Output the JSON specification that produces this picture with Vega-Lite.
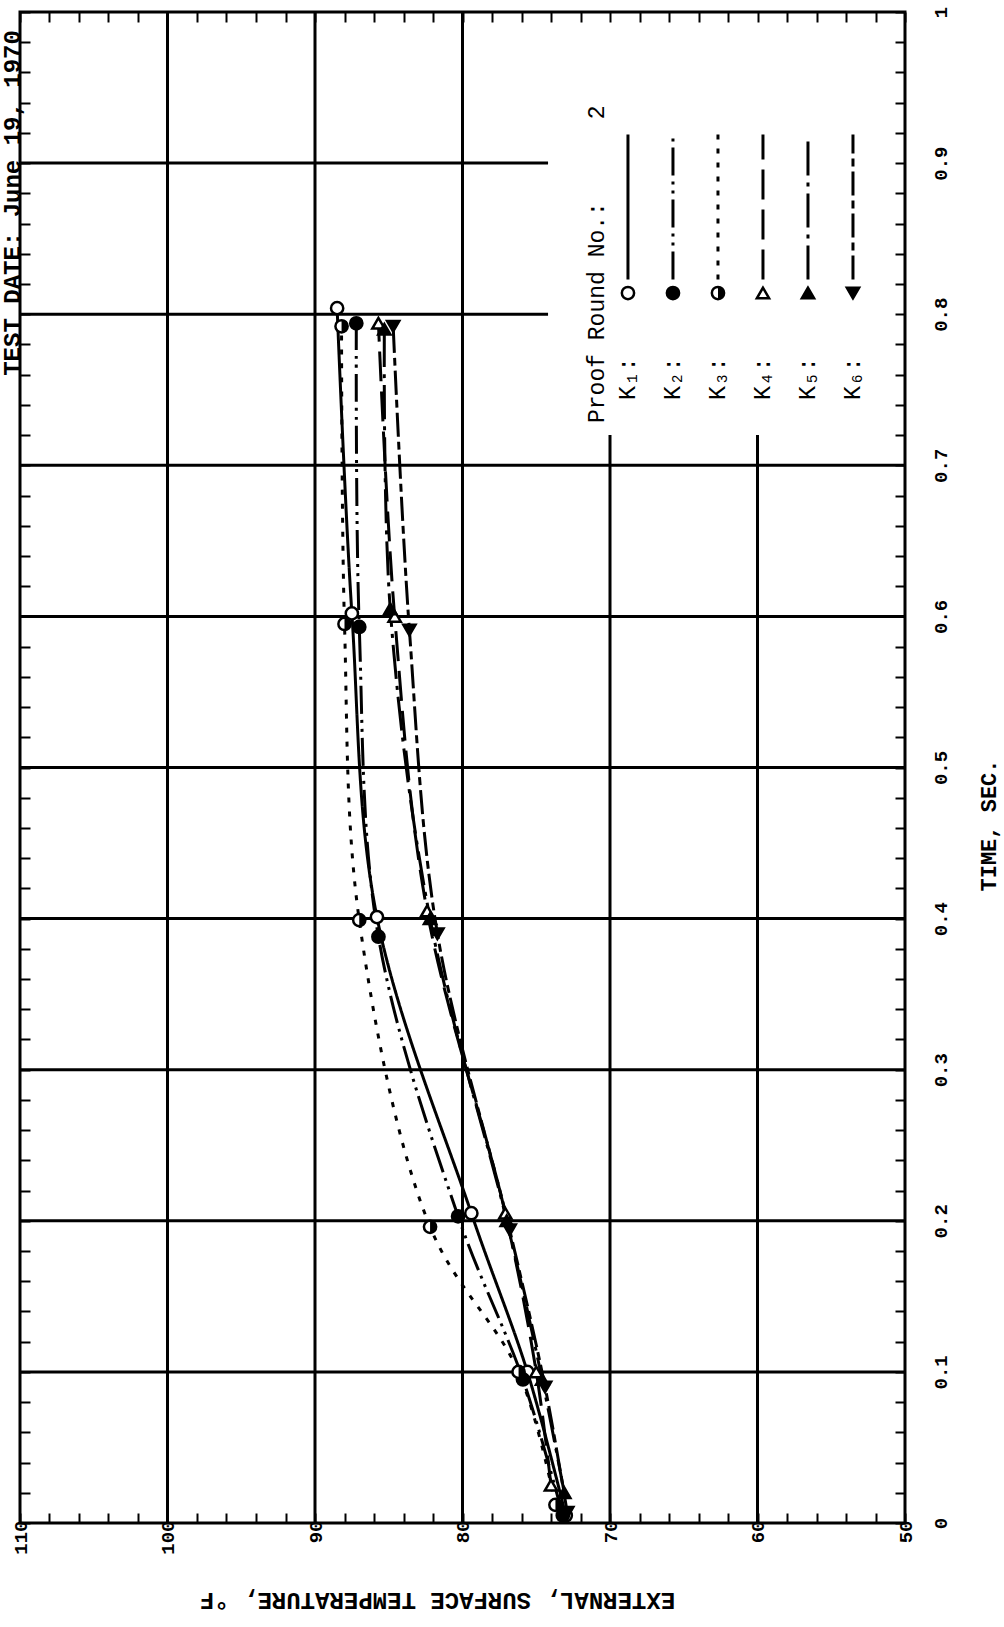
{
  "$schema": "https://vega.github.io/schema/vega-lite/v6.json",
  "width": 885,
  "height": 1511,
  "autosize": "none",
  "padding": {"left": 20, "top": 12, "right": 99, "bottom": 104},
  "background": "white",
  "config": {
    "view": {"stroke": "black", "strokeWidth": 3},
    "axis": {"labelColor": "black", "tickColor": "black", "titleColor": "black", "labelFont": "Liberation Mono", "titleFont": "Liberation Mono"}
  },
  "datasets": {
    "grid": [
      {"temp_from": 100, "temp_to": 100, "time_from": 0, "time_to": 1},
      {"temp_from": 90, "temp_to": 90, "time_from": 0, "time_to": 1},
      {"temp_from": 80, "temp_to": 80, "time_from": 0, "time_to": 1},
      {"temp_from": 70, "temp_to": 70, "time_from": 0, "time_to": 0.72},
      {"temp_from": 60, "temp_to": 60, "time_from": 0, "time_to": 0.72},
      {"temp_from": 110, "temp_to": 50, "time_from": 0.1, "time_to": 0.1},
      {"temp_from": 110, "temp_to": 50, "time_from": 0.2, "time_to": 0.2},
      {"temp_from": 110, "temp_to": 50, "time_from": 0.3, "time_to": 0.3},
      {"temp_from": 110, "temp_to": 50, "time_from": 0.4, "time_to": 0.4},
      {"temp_from": 110, "temp_to": 50, "time_from": 0.5, "time_to": 0.5},
      {"temp_from": 110, "temp_to": 50, "time_from": 0.6, "time_to": 0.6},
      {"temp_from": 110, "temp_to": 50, "time_from": 0.7, "time_to": 0.7},
      {"temp_from": 110, "temp_to": 74.2, "time_from": 0.8, "time_to": 0.8},
      {"temp_from": 110, "temp_to": 74.2, "time_from": 0.9, "time_to": 0.9}
    ],
    "readings": [
      {"series": "K1", "time": 0.005, "temp": 73.0},
      {"series": "K1", "time": 0.1, "temp": 75.6},
      {"series": "K1", "time": 0.205, "temp": 79.4},
      {"series": "K1", "time": 0.401, "temp": 85.8},
      {"series": "K1", "time": 0.602, "temp": 87.5},
      {"series": "K1", "time": 0.804, "temp": 88.5},
      {"series": "K2", "time": 0.005, "temp": 73.2},
      {"series": "K2", "time": 0.095, "temp": 75.9},
      {"series": "K2", "time": 0.203, "temp": 80.3},
      {"series": "K2", "time": 0.388, "temp": 85.7},
      {"series": "K2", "time": 0.593, "temp": 87.0},
      {"series": "K2", "time": 0.794, "temp": 87.2},
      {"series": "K3", "time": 0.012, "temp": 73.7},
      {"series": "K3", "time": 0.1, "temp": 76.2},
      {"series": "K3", "time": 0.196, "temp": 82.2},
      {"series": "K3", "time": 0.399, "temp": 87.0},
      {"series": "K3", "time": 0.595, "temp": 88.0},
      {"series": "K3", "time": 0.792, "temp": 88.2},
      {"series": "K4", "time": 0.025, "temp": 74.0},
      {"series": "K4", "time": 0.1, "temp": 75.0},
      {"series": "K4", "time": 0.205, "temp": 77.1},
      {"series": "K4", "time": 0.405, "temp": 82.4},
      {"series": "K4", "time": 0.6, "temp": 84.6},
      {"series": "K4", "time": 0.794, "temp": 85.7},
      {"series": "K5", "time": 0.02, "temp": 73.1},
      {"series": "K5", "time": 0.095, "temp": 74.6},
      {"series": "K5", "time": 0.2, "temp": 77.0},
      {"series": "K5", "time": 0.4, "temp": 82.2},
      {"series": "K5", "time": 0.605, "temp": 84.9},
      {"series": "K5", "time": 0.79, "temp": 85.3},
      {"series": "K6", "time": 0.007, "temp": 72.9},
      {"series": "K6", "time": 0.09, "temp": 74.4},
      {"series": "K6", "time": 0.194, "temp": 76.8},
      {"series": "K6", "time": 0.39, "temp": 81.7},
      {"series": "K6", "time": 0.591, "temp": 83.6},
      {"series": "K6", "time": 0.792, "temp": 84.7}
    ],
    "keys": [
      {"series": "K1", "number": 1, "label": "K₁:"},
      {"series": "K2", "number": 2, "label": "K₂:"},
      {"series": "K3", "number": 3, "label": "K₃:"},
      {"series": "K4", "number": 4, "label": "K₄:"},
      {"series": "K5", "number": 5, "label": "K₅:"},
      {"series": "K6", "number": 6, "label": "K₆:"}
    ]
  },
  "layer": [
    {
      "resolve": {"axis": {"x": "independent", "y": "independent"}},
      "layer": [
        {
          "data": {"name": "grid"},
          "mark": {"type": "rule", "color": "black", "strokeWidth": 3},
          "encoding": {
            "x": {"field": "temp_from", "type": "quantitative",
              "scale": {"domain": [50, 110], "reverse": true, "nice": false, "zero": false},
              "axis": {"orient": "bottom", "values": [110, 100, 90, 80, 70, 60, 50], "labelAngle": 270, "ticks": false, "domain": false, "grid": false,
                "labelPadding": -3, "labelFontSize": 19, "labelFontWeight": "bold",
                "title": "EXTERNAL, SURFACE TEMPERATURE, °F", "titleAngle": 180, "titleX": 417, "titleY": 76,
                "titleAlign": "center", "titleBaseline": "middle", "titleFontSize": 24, "titleFontWeight": "bold"}},
            "x2": {"field": "temp_to"},
            "y": {"field": "time_from", "type": "quantitative",
              "scale": {"domain": [0, 1], "nice": false, "zero": false},
              "axis": {"orient": "right", "values": [0, 0.1, 0.2, 0.3, 0.4, 0.5, 0.6, 0.7, 0.8, 0.9, 1], "format": "~g", "labelAngle": 270, "ticks": false, "domain": false, "grid": false,
                "labelPadding": 26, "labelFontSize": 19, "labelFontWeight": "bold",
                "title": "TIME, SEC.", "titleAngle": 270, "titleX": 83, "titleY": 813,
                "titleAlign": "center", "titleBaseline": "middle", "titleFontSize": 22, "titleFontWeight": "bold"}},
            "y2": {"field": "time_to"}
          }
        },
        {
          "data": {"name": "readings"},
          "mark": {"type": "line", "color": "black", "strokeWidth": 3, "interpolate": "catmull-rom"},
          "encoding": {
            "x": {"field": "temp", "type": "quantitative",
              "axis": {"orient": "top", "values": [50,52,54,56,58,60,62,64,66,68,70,72,74,76,78,80,82,84,86,88,90,92,94,96,98,100,102,104,106,108,110],
                "labels": false, "ticks": true, "tickSize": -10, "tickWidth": 2, "domain": false, "grid": false, "title": null}},
            "y": {"field": "time", "type": "quantitative",
              "axis": {"orient": "left", "values": [0,0.02,0.04,0.06,0.08,0.1,0.12,0.14,0.16,0.18,0.2,0.22,0.24,0.26,0.28,0.3,0.32,0.34,0.36,0.38,0.4,0.42,0.44,0.46,0.48,0.5,0.52,0.54,0.56,0.58,0.6,0.62,0.64,0.66,0.68,0.7,0.72,0.74,0.76,0.78,0.8,0.82,0.84,0.86,0.88,0.9,0.92,0.94,0.96,0.98,1],
                "labels": false, "ticks": true, "tickSize": -10, "tickWidth": 2, "domain": false, "grid": false, "title": null}},
            "order": {"field": "time", "type": "quantitative"},
            "detail": {"field": "series"},
            "strokeDash": {"field": "series", "type": "nominal", "legend": null,
              "scale": {"domain": ["K1", "K2", "K3", "K4", "K5", "K6"],
                "range": [[1, 0], [28, 6, 3, 6, 3, 6], [5, 9], [30, 10], [34, 7, 4, 7], [24, 5, 8, 5]]}}
          }
        },
        {
          "data": {"name": "readings"},
          "mark": {"type": "point", "filled": true, "stroke": "black", "strokeWidth": 2.5, "size": 150, "opacity": 1},
          "encoding": {
            "x": {"field": "temp", "type": "quantitative",
              "axis": {"orient": "bottom", "values": [50,52,54,56,58,60,62,64,66,68,70,72,74,76,78,80,82,84,86,88,90,92,94,96,98,100,102,104,106,108,110],
                "labels": false, "ticks": true, "tickSize": -10, "tickWidth": 2, "domain": false, "grid": false, "title": null}},
            "y": {"field": "time", "type": "quantitative",
              "axis": {"orient": "right", "values": [0,0.02,0.04,0.06,0.08,0.1,0.12,0.14,0.16,0.18,0.2,0.22,0.24,0.26,0.28,0.3,0.32,0.34,0.36,0.38,0.4,0.42,0.44,0.46,0.48,0.5,0.52,0.54,0.56,0.58,0.6,0.62,0.64,0.66,0.68,0.7,0.72,0.74,0.76,0.78,0.8,0.82,0.84,0.86,0.88,0.9,0.92,0.94,0.96,0.98,1],
                "labels": false, "ticks": true, "tickSize": -10, "tickWidth": 2, "domain": false, "grid": false, "title": null}},
            "shape": {"field": "series", "type": "nominal", "legend": null,
              "scale": {"domain": ["K1", "K2", "K3", "K4", "K5", "K6"], "range": ["circle", "circle", "circle", "triangle-up", "triangle-up", "triangle-down"]}},
            "fill": {"field": "series", "type": "nominal", "legend": null,
              "scale": {"domain": ["K1", "K2", "K3", "K4", "K5", "K6"], "range": ["white", "black", "white", "white", "black", "black"]}}
          }
        },
        {
          "data": {"name": "readings"},
          "transform": [{"filter": "datum.series === 'K3'"}],
          "mark": {"type": "point", "filled": true, "color": "black", "size": 150, "shape": "M0,-1A1,1,0,0,1,0,1Z", "opacity": 1},
          "encoding": {
            "x": {"field": "temp", "type": "quantitative", "axis": null},
            "y": {"field": "time", "type": "quantitative", "axis": null}
          }
        },
        {
          "data": {"values": [{"text": "Proof Round No.:\u00a0\u00a0\u00a0\u00a0\u00a0\u00a02"}]},
          "mark": {"type": "text", "angle": 270, "align": "left", "baseline": "middle", "font": "Liberation Mono", "fontSize": 23, "color": "black"},
          "encoding": {
            "x": {"datum": 70.9, "type": "quantitative", "axis": null},
            "y": {"datum": 0.728, "type": "quantitative", "axis": null},
            "text": {"field": "text"}
          }
        },
        {
          "data": {"values": [{"text": "TEST DATE: June 19, 1970"}]},
          "mark": {"type": "text", "angle": 270, "align": "right", "baseline": "alphabetic", "font": "Liberation Mono", "fontWeight": "bold", "fontSize": 24, "color": "black"},
          "encoding": {
            "x": {"datum": 110, "type": "quantitative", "axis": null},
            "y": {"datum": 0.988, "type": "quantitative", "axis": null},
            "text": {"field": "text"}
          }
        }
      ]
    },
    {
      "data": {"name": "keys"},
      "encoding": {
        "x": {"field": "number", "type": "quantitative", "axis": null,
          "scale": {"domain": [-12.51, 7.156], "nice": false, "zero": false}}
      },
      "layer": [
        {
          "mark": {"type": "rule", "color": "black", "strokeWidth": 3},
          "encoding": {
            "y": {"datum": 0.823, "type": "quantitative", "axis": null},
            "y2": {"datum": 0.919},
            "strokeDash": {"field": "series", "type": "nominal", "legend": null}
          }
        },
        {
          "mark": {"type": "point", "filled": true, "stroke": "black", "strokeWidth": 2.5, "size": 150, "opacity": 1},
          "encoding": {
            "y": {"datum": 0.814, "type": "quantitative", "axis": null},
            "shape": {"field": "series", "type": "nominal", "legend": null},
            "fill": {"field": "series", "type": "nominal", "legend": null}
          }
        },
        {
          "transform": [{"filter": "datum.series === 'K3'"}],
          "mark": {"type": "point", "filled": true, "color": "black", "size": 150, "shape": "M0,-1A1,1,0,0,1,0,1Z", "opacity": 1},
          "encoding": {
            "y": {"datum": 0.814, "type": "quantitative", "axis": null}
          }
        },
        {
          "mark": {"type": "text", "angle": 270, "align": "left", "baseline": "middle", "font": "Liberation Mono", "fontSize": 24, "color": "black"},
          "encoding": {
            "y": {"datum": 0.743, "type": "quantitative", "axis": null},
            "text": {"field": "label"}
          }
        }
      ]
    }
  ],
  "resolve": {"scale": {"x": "independent"}, "axis": {"x": "independent", "y": "independent"}}
}
